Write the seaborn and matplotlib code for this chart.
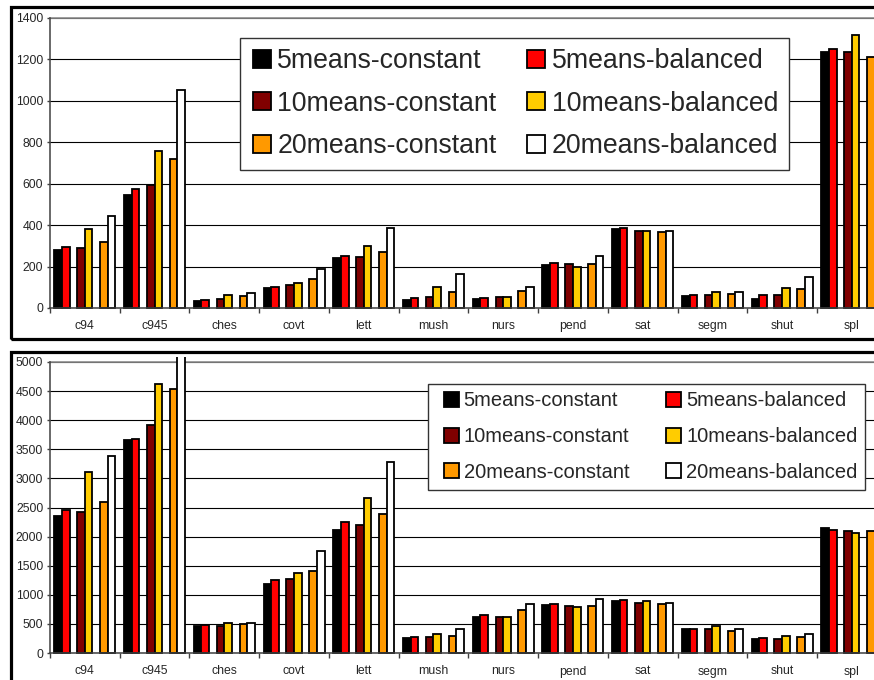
import matplotlib
matplotlib.use("Agg")
import matplotlib.pyplot as plt
from matplotlib.patches import Patch, Rectangle
from matplotlib.legend_handler import HandlerPatch
from matplotlib.ticker import FixedLocator
from matplotlib.transforms import Bbox
import numpy as np
import pandas as pd
import seaborn as sns

# ---- data ---------------------------------------------------------------
datasets = ["c94", "c945", "ches", "covt", "lett", "mush", "nurs", "pend",
            "sat", "segm", "shut", "spl"]

series_names = ["5means-constant", "5means-balanced",
                "10means-constant", "10means-balanced",
                "20means-constant", "20means-balanced"]

# upper chart
top_5c = [279, 544, 35, 95, 239, 37, 44, 207, 379, 60, 45, 1237]
top_5b = [295, 573, 40, 100, 252, 47, 47, 216, 385, 61, 63, 1250]
top_10c = [290, 595, 44, 109, 246, 52, 52, 211, 373, 61, 63, 1234]
top_10b = [382, 758, 61, 122, 301, 102, 55, 197, 373, 77, 97, 1318]
top_20c = [318, 718, 60, 138, 272, 78, 80, 210, 366, 69, 94, 1213]
top_20b = [444, 1053, 74, 187, 385, 166, 102, 250, 373, 79, 148, 1220]

# lower chart
bot_5c = [2362, 3655, 460, 1178, 2121, 252, 613, 820, 891, 420, 236, 2155]
bot_5b = [2460, 3678, 483, 1253, 2259, 269, 659, 837, 908, 420, 253, 2109]
bot_10c = [2431, 3919, 471, 1266, 2207, 269, 619, 816, 851, 408, 241, 2092]
bot_10b = [3103, 4615, 517, 1383, 2661, 327, 619, 782, 891, 471, 287, 2063]
bot_20c = [2603, 4540, 506, 1410, 2391, 298, 739, 816, 839, 379, 276, 2092]
bot_20b = [3391, 5150, 517, 1759, 3282, 407, 837, 920, 862, 420, 333, 2090]

top_ticks = list(range(0, 1401, 200))
bot_ticks = list(range(0, 5001, 500))

# ---- styling ------------------------------------------------------------
colors = {
    "5means-constant": "#000000",
    "5means-balanced": "#FF0000",
    "10means-constant": "#800000",
    "10means-balanced": "#FFCC00",
    "20means-constant": "#FF9900",
    "20means-balanced": "#FFFFFF",
    " ": "#FFFFFF",
    "  ": "#FFFFFF",
}
# blank slots between the pairs of series
hue_slots = ["5means-constant", "5means-balanced", " ",
             "10means-constant", "10means-balanced", "  ",
             "20means-constant", "20means-balanced"]

sns.set_style("white")
plt.rcParams["font.family"] = ["Liberation Sans", "DejaVu Sans"]

W, H = 874, 680
fig = plt.figure(figsize=(W / 100, H / 100), dpi=100)


def px_axes(left, top, right, bottom):
    return fig.add_axes([left / W, 1 - bottom / H, (right - left) / W,
                         (bottom - top) / H])


def make_frame(values):
    rows = []
    for name, vals in zip(series_names, values):
        for d, v in zip(datasets, vals):
            rows.append({"dataset": d, "series": name, "value": v})
    return pd.DataFrame(rows)


def draw_panel(ax, values, ticks, clip_top_px):
    df = make_frame(values)
    sns.barplot(data=df, x="dataset", y="value", hue="series",
                order=datasets, hue_order=hue_slots, palette=colors,
                saturation=1, width=0.875, edgecolor="black", linewidth=1.3,
                legend=False, ax=ax, zorder=3)
    # bars may poke a little above the plot area, like the source chart
    clip = Bbox.from_extents(0, 0, W * 1.2, H - clip_top_px)
    for p in ax.patches:
        p.set_clip_box(clip)
    ax.set_xlim(-0.5, len(datasets) - 0.5)
    ax.set_ylim(0, ticks[-1])
    ax.set_xlabel("")
    ax.set_ylabel("")
    ax.yaxis.set_major_locator(FixedLocator(ticks))
    ax.set_yticklabels([str(t) for t in ticks])
    ax.xaxis.set_minor_locator(FixedLocator(np.arange(-0.5, len(datasets), 1.0)))
    ax.tick_params(axis="x", which="major", length=0, pad=9, labelsize=8.8)
    ax.tick_params(axis="x", which="minor", length=3.6, width=1.0,
                   color="#404040", direction="out", bottom=True)
    ax.tick_params(axis="y", which="major", length=2.4, width=1.0,
                   color="#404040", direction="out", pad=2.5, labelsize=8.8,
                   left=True)
    ax.yaxis.grid(True, color="black", linewidth=0.8, zorder=0)
    ax.set_axisbelow(True)
    for side in ("top", "right"):
        ax.spines[side].set_color("#8c8c8c")
        ax.spines[side].set_linewidth(1.2)
    for side in ("left", "bottom"):
        ax.spines[side].set_color("#404040")
        ax.spines[side].set_linewidth(1.1)
        ax.spines[side].set_zorder(4)


def square_handler(side_px):
    """Legend key drawn as a square of fixed size, right-aligned in its box."""
    s = side_px * 72 / 100

    def make(legend, orig_handle, xdescent, ydescent, width, height, fontsize):
        return Rectangle((-xdescent + width - s, -ydescent + (height - s) / 2),
                         s, s)
    return HandlerPatch(patch_func=make)


def add_legend(ax, anchor, fontsize, side_px, box_px, cspace, lspace, bpad):
    order = ["5means-constant", "10means-constant", "20means-constant",
             "5means-balanced", "10means-balanced", "20means-balanced"]
    handles = [Patch(facecolor=colors[n], edgecolor="black", linewidth=1.3,
                     label=n) for n in order]
    fs_px = fontsize * 100 / 72
    leg = ax.legend(handles=handles, ncol=2, loc="upper left",
                    bbox_to_anchor=(anchor[0] / W, 1 - anchor[1] / H),
                    bbox_transform=fig.transFigure, fontsize=fontsize,
                    handlelength=box_px / fs_px, handleheight=side_px / fs_px,
                    handletextpad=0.25, columnspacing=cspace,
                    labelspacing=lspace, borderpad=bpad, borderaxespad=0,
                    frameon=True, fancybox=False, shadow=False,
                    handler_map={Patch: square_handler(side_px)})
    fr = leg.get_frame()
    fr.set_edgecolor("#333333")
    fr.set_linewidth(1.0)
    fr.set_facecolor("white")
    fr.set_alpha(1)
    leg.set_zorder(10)
    return leg


ax_top = px_axes(50, 18, 886.7, 308)
draw_panel(ax_top, [top_5c, top_5b, top_10c, top_10b, top_20c, top_20b],
           top_ticks, 12)
add_legend(ax_top, (240.5, 37.5), 19.2, 18, 19.5, 1.1, 0.62, 0.4)

ax_bot = px_axes(50, 362, 886.7, 653)
draw_panel(ax_bot, [bot_5c, bot_5b, bot_10c, bot_10b, bot_20c, bot_20b],
           bot_ticks, 356.5)
add_legend(ax_bot, (428, 383.5), 14.5, 15, 23, 1.44, 0.84, 0.38)

# outer chart borders
for (x0, y0, x1, y1) in [(10.5, 7, 950, 338.5), (10.5, 351.5, 950, 760)]:
    fig.add_artist(Rectangle((x0 / W, 1 - y1 / H), (x1 - x0) / W,
                             (y1 - y0) / H, transform=fig.transFigure,
                             fill=False, edgecolor="black", linewidth=2.3,
                             zorder=20))

fig.savefig("out.png", dpi=100)
